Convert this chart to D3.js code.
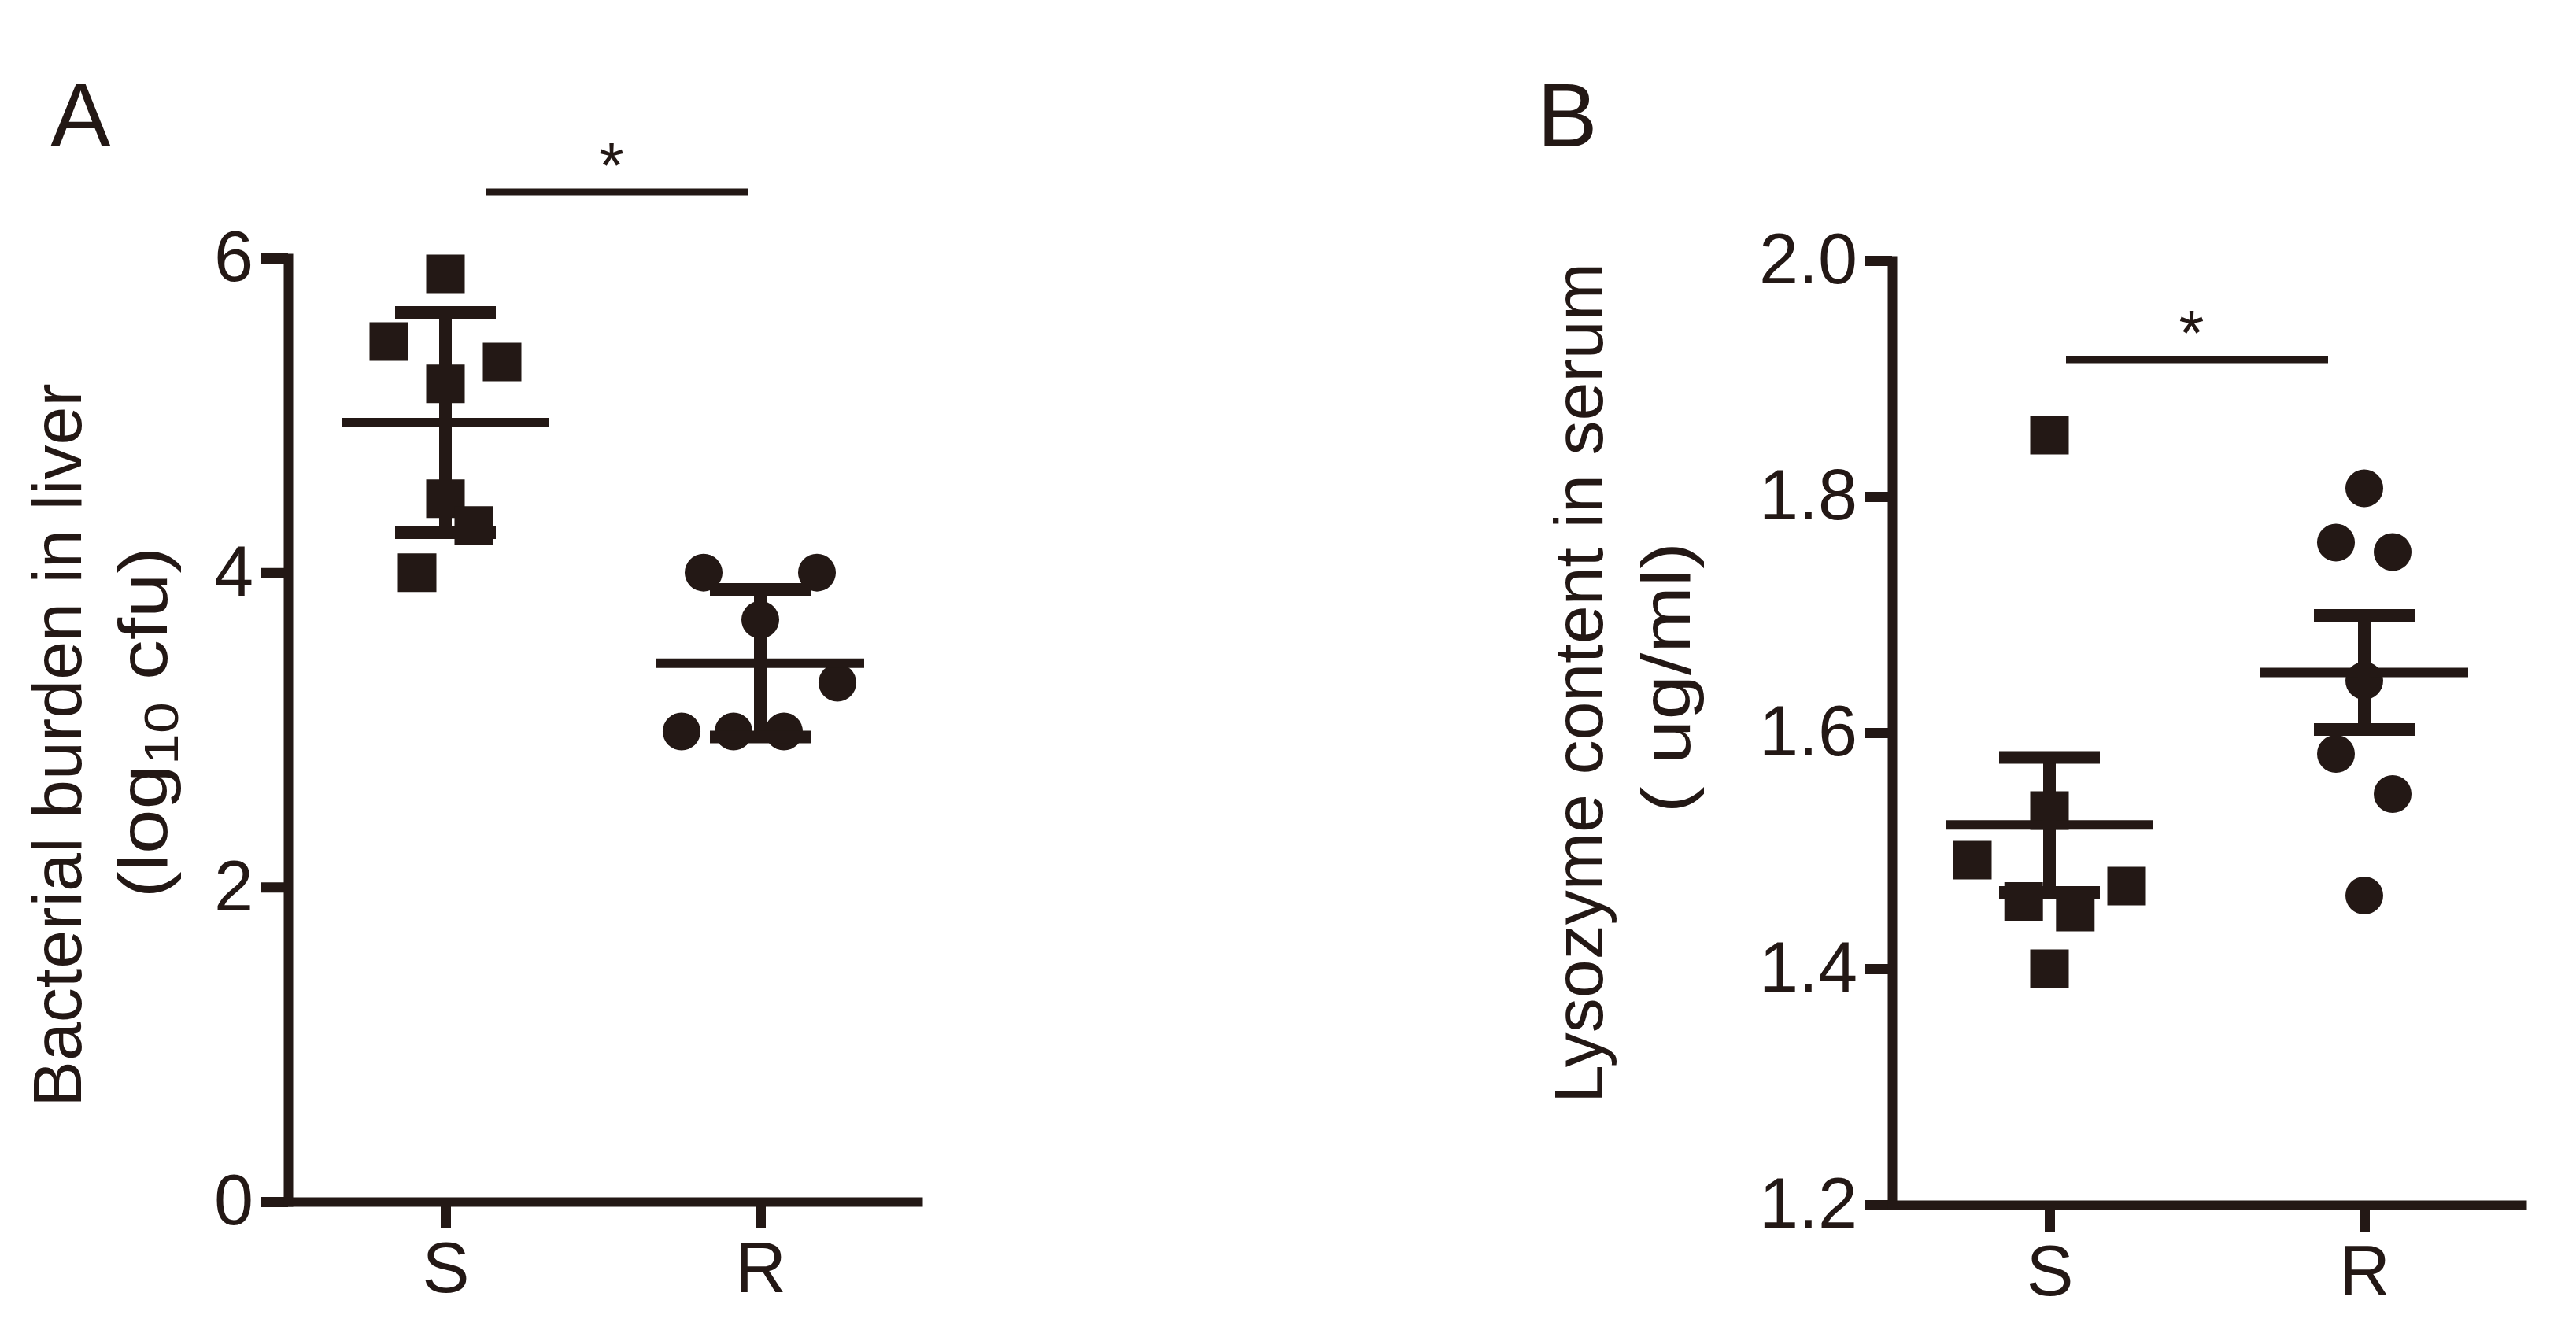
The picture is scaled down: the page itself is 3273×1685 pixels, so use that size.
<!DOCTYPE html>
<html>
<head>
<meta charset="utf-8">
<script src="https://cdn.jsdelivr.net/npm/d3@7"></script>
<style>
  body { margin: 0; background: #fff; }
  text { font-family: "Liberation Sans", Arial, sans-serif; }
</style>
</head>
<body>
<script>
// ---- data ----
const groups = ["S", "R"];

// A: bacterial burden in liver (log10 cfu), mean +/- SD
const liverS = [5.90, 5.47, 5.34, 5.20, 4.47, 4.30, 4.00];
const liverR = [4.00, 4.00, 3.70, 3.30, 2.99, 2.99, 2.99];
// sideways scatter of each point, as a fraction of the category step
const liverSJitter = [0, -0.18, 0.18, 0, 0, 0.09, -0.09];
const liverRJitter = [-0.18, 0.18, 0, 0.245, -0.25, -0.085, 0.075];
const liverTicks = [0, 2, 4, 6];

// B: lysozyme content in serum (ug/ml), mean +/- SEM
const lysoS = [1.852, 1.534, 1.492, 1.470, 1.457, 1.448, 1.400];
const lysoR = [1.807, 1.761, 1.753, 1.644, 1.582, 1.548, 1.462];
const lysoSJitter = [0, 0, -0.245, 0.245, -0.082, 0.082, 0];
const lysoRJitter = [0, -0.09, 0.09, 0, -0.09, 0.09, 0];
const lysoTicks = [1.2, 1.4, 1.6, 1.8, 2.0];

// ---- canvas ----
const width = 3273;
const height = 1685;
const ink = "#231815";
const font = "'Liberation Sans', Arial, sans-serif";

const svg = d3.select("body")
    .append("svg")
    .attr("width", width)
    .attr("height", height)
    .style("background", "#fff");

const panels = [
    {
        letter: "A", letterX: 64,
        left: 366, right: 1166, top: 328, bottom: 1527,
        domain: [0, 6], ticks: liverTicks, format: d3.format("d"),
        error: "sd",
        series: [
            {group: "S", shape: "square", values: liverS, jitter: liverSJitter},
            {group: "R", shape: "circle", values: liverR, jitter: liverRJitter}
        ],
        titleX: [103, 212], titleY: [947, 918],
        title: [["Bacterial burden in liver"], ["(log", "10", " cfu)"]],
        bar: {value: 6.42, from: 0.13, to: -0.04}
    },
    {
        letter: "B", letterX: 1953,
        left: 2404, right: 3204, top: 331, bottom: 1531,
        domain: [1.2, 2.0], ticks: lysoTicks, format: d3.format(".1f"),
        error: "sem",
        series: [
            {group: "S", shape: "square", values: lysoS, jitter: lysoSJitter},
            {group: "R", shape: "circle", values: lysoR, jitter: lysoRJitter}
        ],
        titleX: [2036, 2147], titleY: [868, 861],
        title: [["Lysozyme content in serum"], ["( ug/ml)"]],
        bar: {value: 1.916, from: 0.0525, to: -0.115}
    }
];

panels.forEach(drawPanel);

function drawPanel(p) {
    let g = svg.append("g");

    let x = d3.scalePoint().domain(groups).range([p.left, p.right]).padding(0.5);
    let y = d3.scaleLinear().domain(p.domain).range([p.bottom, p.top]);
    let step = x.step();

    // axes
    let yAxis = g.append("g")
        .attr("transform", `translate(${p.left},0)`)
        .call(d3.axisLeft(y).tickValues(p.ticks).tickFormat(p.format)
            .tickSize(34).tickPadding(10).tickSizeOuter(0));
    let xAxis = g.append("g")
        .attr("transform", `translate(0,${p.bottom})`)
        .call(d3.axisBottom(x).tickSize(34).tickPadding(17).tickSizeOuter(0));

    [yAxis, xAxis].forEach(a => {
        a.attr("font-family", font).attr("font-size", 90);
        a.select(".domain")
            .attr("stroke", ink)
            .attr("stroke-width", 12)
            .attr("stroke-linecap", "square");
        a.selectAll(".tick line").attr("stroke", ink).attr("stroke-width", 13);
        a.selectAll(".tick text").attr("fill", ink);
    });

    // points
    p.series.forEach(s => {
        let cx = x(s.group);
        let pts = s.values.map((v, i) => ({v: v, dx: s.jitter[i]}));
        let sym = d3.symbol()
            .type(s.shape === "square" ? d3.symbolSquare : d3.symbolCircle)
            .size(s.shape === "square" ? 49 * 49 : Math.PI * 24 * 24);
        g.append("g").selectAll("path").data(pts)
            .enter().append("path")
            .attr("transform", d => `translate(${cx + d.dx * step},${y(d.v)})`)
            .attr("d", sym)
            .attr("fill", ink);

        // mean and error bar
        let m = d3.mean(s.values);
        let e = d3.deviation(s.values);
        if (p.error === "sem") e = e / Math.sqrt(s.values.length);

        let lines = [
            {x1: cx - 0.33 * step, x2: cx + 0.33 * step, y1: y(m), y2: y(m), w: 12},
            {x1: cx, x2: cx, y1: y(m + e), y2: y(m - e), w: 16},
            {x1: cx - 0.16 * step, x2: cx + 0.16 * step, y1: y(m + e), y2: y(m + e), w: 16},
            {x1: cx - 0.16 * step, x2: cx + 0.16 * step, y1: y(m - e), y2: y(m - e), w: 16}
        ];
        g.append("g").selectAll("line").data(lines)
            .enter().append("line")
            .attr("x1", d => d.x1).attr("x2", d => d.x2)
            .attr("y1", d => d.y1).attr("y2", d => d.y2)
            .attr("stroke", ink)
            .attr("stroke-width", d => d.w);
    });

    // significance bar
    let bx1 = x("S") + p.bar.from * step;
    let bx2 = x("R") + p.bar.to * step;
    let by = y(p.bar.value);
    g.append("line")
        .attr("x1", bx1).attr("x2", bx2)
        .attr("y1", by).attr("y2", by)
        .attr("stroke", ink)
        .attr("stroke-width", 9);
    g.append("text")
        .attr("x", (bx1 + bx2) / 2 - 7)
        .attr("y", by - 6)
        .attr("text-anchor", "middle")
        .attr("font-size", 82)
        .attr("fill", ink)
        .text("*");

    // y axis title, two rotated lines (the second one is stretched along its run)
    p.title.forEach((parts, li) => {
        let stretch = li === 1 ? 1.155 : 1;
        let t = g.append("text")
            .attr("transform", `translate(${p.titleX[li]},${p.titleY[li]}) rotate(-90) scale(${stretch},1)`)
            .attr("text-anchor", "middle")
            .attr("font-size", 88)
            .attr("fill", ink);
        if (parts.length === 1) {
            t.text(parts[0]);
        } else {
            t.append("tspan").text(parts[0]);
            t.append("tspan").attr("font-size", 62).attr("dy", 14).text(parts[1]);
            t.append("tspan").attr("dy", -14).text(parts[2]);
        }
    });

    // panel letter
    svg.append("text")
        .attr("x", p.letterX)
        .attr("y", 186)
        .attr("font-size", 115)
        .attr("fill", ink)
        .text(p.letter);
}
</script>
</body>
</html>
